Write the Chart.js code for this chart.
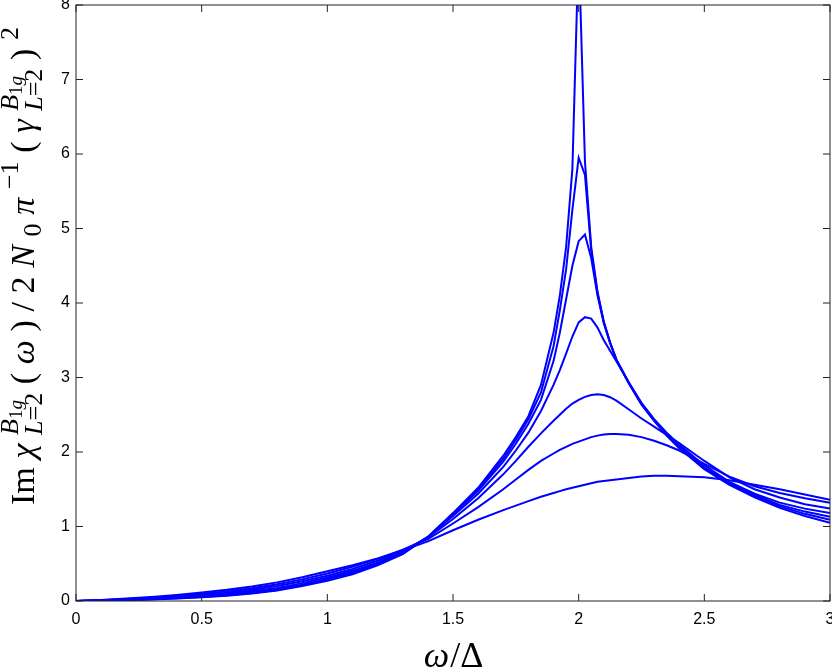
<!DOCTYPE html>
<html>
<head>
<meta charset="utf-8">
<script src="https://cdn.jsdelivr.net/npm/chart.js@4.4.1/dist/chart.umd.min.js"></script>
<style>
  html, body { margin: 0; padding: 0; background: #fff; }
  canvas { display: block; }
</style>
</head>
<body>
<canvas id="chart" width="832" height="671"></canvas>
<script>
// omega / Delta sample points shared by all curves
const xGrid = [0, 0.1, 0.2, 0.3, 0.4, 0.5, 0.6, 0.7, 0.8, 0.9, 1.0,
    1.1, 1.2, 1.3, 1.4, 1.5, 1.6, 1.7,
    1.75, 1.8, 1.85, 1.9,
    1.925, 1.95, 1.975, 2.0, 2.025, 2.05, 2.075, 2.1, 2.125, 2.15,
    2.2, 2.25, 2.3, 2.35, 2.4,
    2.5, 2.6, 2.7, 2.8, 2.9, 3.0];

// curves, from the sharpest peak to the broadest one
const curveA = [0, 0.004, 0.011, 0.021, 0.033, 0.05, 0.07, 0.10, 0.14, 0.20, 0.27,
    0.36, 0.48, 0.63, 0.86, 1.18, 1.52, 1.95,
    2.2, 2.48, 2.9, 3.6,
    4.1, 4.75, 5.8, 8.8, 5.9, 4.75, 4.15, 3.75, 3.47, 3.24,
    2.92, 2.64, 2.42, 2.22, 2.05,
    1.77, 1.56, 1.39, 1.25, 1.14, 1.05];
const curveB = [0, 0.005, 0.013, 0.024, 0.038, 0.055, 0.077, 0.107, 0.148, 0.21, 0.28,
    0.37, 0.49, 0.64, 0.86, 1.17, 1.5, 1.91,
    2.16, 2.44, 2.8, 3.42,
    3.9, 4.45, 5.25, 5.95, 5.72, 4.7, 4.13, 3.74, 3.47, 3.24,
    2.92, 2.64, 2.42, 2.23, 2.06,
    1.78, 1.57, 1.41, 1.27, 1.17, 1.09];
const curveC = [0, 0.006, 0.015, 0.027, 0.042, 0.06, 0.084, 0.116, 0.158, 0.22, 0.295,
    0.385, 0.5, 0.65, 0.86, 1.16, 1.48, 1.87,
    2.11, 2.38, 2.7, 3.22,
    3.6, 4.05, 4.5, 4.83, 4.92, 4.6, 4.1, 3.73, 3.46, 3.24,
    2.93, 2.65, 2.43, 2.24, 2.08,
    1.79, 1.58, 1.42, 1.29, 1.2, 1.13];
const curveD = [0, 0.007, 0.018, 0.032, 0.05, 0.07, 0.095, 0.13, 0.175, 0.24, 0.315,
    0.405, 0.515, 0.66, 0.855, 1.14, 1.44, 1.8,
    2.02, 2.26, 2.55, 2.9,
    3.1, 3.32, 3.55, 3.74, 3.81, 3.79, 3.67, 3.5, 3.36, 3.22,
    2.93, 2.66, 2.44, 2.26, 2.1,
    1.82, 1.6, 1.44, 1.32, 1.24, 1.18];
const curveE = [0, 0.009, 0.022, 0.039, 0.06, 0.083, 0.112, 0.15, 0.2, 0.265, 0.34,
    0.43, 0.54, 0.675, 0.85, 1.1, 1.38, 1.7,
    1.88, 2.07, 2.25, 2.42,
    2.5, 2.58, 2.65, 2.7, 2.74, 2.765, 2.775, 2.765, 2.735, 2.69,
    2.57, 2.45, 2.34, 2.23, 2.12,
    1.88, 1.66, 1.5, 1.39, 1.3, 1.24];
const curveF = [0, 0.011, 0.027, 0.047, 0.07, 0.097, 0.13, 0.172, 0.225, 0.29, 0.37,
    0.46, 0.565, 0.69, 0.83, 1.04, 1.26, 1.5,
    1.63, 1.76, 1.88, 1.98,
    2.03, 2.07, 2.11, 2.14, 2.17, 2.2, 2.22, 2.235, 2.24, 2.24,
    2.23, 2.2, 2.15, 2.09, 2.02,
    1.84, 1.67, 1.54, 1.45, 1.38, 1.32];
const curveG = [0, 0.013, 0.032, 0.055, 0.082, 0.113, 0.15, 0.195, 0.25, 0.32, 0.40,
    0.48, 0.57, 0.68, 0.8, 0.95, 1.09, 1.22,
    1.28, 1.34, 1.4, 1.45,
    1.475, 1.5, 1.52, 1.54, 1.56, 1.58, 1.6, 1.61, 1.62, 1.63,
    1.65, 1.67, 1.68, 1.68, 1.675,
    1.66, 1.62, 1.56, 1.5, 1.43, 1.36];

const curves = [curveA, curveB, curveC, curveD, curveE, curveF, curveG];

const xTicks = [0, 0.5, 1, 1.5, 2, 2.5, 3];
const yTicks = [0, 1, 2, 3, 4, 5, 6, 7, 8];

// y axis title pieces (i: italic, l: script level)
const supB1g = [{t: 'B', i: 1}, {t: '1', l: 2}, {t: 'g', i: 1, l: 2}];
const subL2 = [{t: 'L', i: 1}, {t: '=2'}];
const yTitle = [
    {t: 'Im'}, {t: 'χ', i: 1}, {sup: supB1g, sub: subL2},
    {t: '('}, {t: 'ω', i: 1}, {t: ')'}, {t: '/'}, {t: '2'}, {t: 'N', i: 1}, {sub: [{t: '0'}]},
    {t: 'π', i: 1}, {sup: [{t: '−1'}]},
    {t: '('}, {t: 'γ', i: 1}, {sup: supB1g, sub: subL2}, {t: ')'}, {sup: [{t: '2'}]}
];
const titleSizes = [34, 26, 19];
const titleLength = 478;
const serif = '"Liberation Serif", "DejaVu Serif", serif';

function pieceFont(p, lvl) {
    return `${p.i ? 'italic ' : ''}${titleSizes[p.l || lvl]}px ${serif}`;
}

function runWidth(ctx, run, lvl) {
    return run.reduce((w, p) => {
        ctx.font = pieceFont(p, lvl);
        return w + ctx.measureText(p.t).width;
    }, 0);
}

function drawRun(ctx, run, x, y, lvl) {
    run.forEach(p => {
        ctx.font = pieceFont(p, lvl);
        ctx.fillText(p.t, x, y + (p.l == 2 ? 4 : 0));
        x += ctx.measureText(p.t).width;
    });
    return x;
}

function itemWidth(ctx, it) {
    if (it.t) return runWidth(ctx, [it], 0);
    return Math.max(it.sup ? runWidth(ctx, it.sup, 1) : 0, it.sub ? runWidth(ctx, it.sub, 1) : 0);
}

function drawRich(ctx, parts, total) {
    let widths = parts.map(it => itemWidth(ctx, it));
    let sum = widths.reduce((a, b) => a + b, 0);
    let gap = Math.max(0, (total - sum) / (parts.length - 1));
    let x = -total / 2;
    parts.forEach((it, k) => {
        if (it.t) {
            drawRun(ctx, [it], x, 0, 0);
        } else {
            if (it.sup) drawRun(ctx, it.sup, x, -16, 1);
            if (it.sub) drawRun(ctx, it.sub, x, it.sup ? 8 : 7, 1);
        }
        x += widths[k] + gap;
    });
}

const framePlugin = {
    id: 'frame',
    afterDraw(chart) {
        const {ctx, chartArea: a, scales} = chart;
        ctx.save();
        ctx.strokeStyle = '#222';
        ctx.lineWidth = 1;
        ctx.strokeRect(a.left, a.top, a.right - a.left, a.bottom - a.top);
        ctx.beginPath();
        const tl = 7;
        scales.x.ticks.forEach(t => {
            let px = scales.x.getPixelForValue(t.value);
            ctx.moveTo(px, a.bottom); ctx.lineTo(px, a.bottom - tl);
            ctx.moveTo(px, a.top); ctx.lineTo(px, a.top + tl);
        });
        scales.y.ticks.forEach(t => {
            let py = scales.y.getPixelForValue(t.value);
            ctx.moveTo(a.left, py); ctx.lineTo(a.left + tl, py);
            ctx.moveTo(a.right, py); ctx.lineTo(a.right - tl, py);
        });
        ctx.stroke();

        // axis titles
        ctx.fillStyle = '#000';
        ctx.textBaseline = 'alphabetic';
        ctx.textAlign = 'left';
        ctx.font = `italic 36px ${serif}`;
        let w1 = ctx.measureText('ω').width;
        ctx.font = `36px ${serif}`;
        let w2 = ctx.measureText('/Δ').width;
        let x0 = (a.left + a.right) / 2 - (w1 + w2) / 2;
        ctx.font = `italic 36px ${serif}`;
        ctx.fillText('ω', x0, 667);
        ctx.font = `36px ${serif}`;
        ctx.fillText('/Δ', x0 + w1 + 1, 667);

        ctx.translate(34, 266);
        ctx.rotate(-Math.PI / 2);
        drawRich(ctx, yTitle, titleLength);
        ctx.restore();
    }
};

const datasets = curves.map(c => ({
    data: xGrid.map((x, i) => ({x: x, y: c[i]})),
    borderColor: '#0000ff',
    borderWidth: 2,
    pointRadius: 0,
    fill: false,
    tension: 0
}));

new Chart(document.getElementById('chart'), {
    type: 'line',
    data: {datasets: datasets},
    options: {
        responsive: false,
        animation: false,
        events: [],
        layout: {padding: {left: 0, right: 2, top: 5, bottom: 0}, autoPadding: false},
        plugins: {legend: {display: false}, tooltip: {enabled: false}},
        scales: {
            x: {
                type: 'linear',
                min: 0,
                max: 3,
                afterBuildTicks: s => { s.ticks = xTicks.map(v => ({value: v})); },
                afterFit: s => { s.height = 70; s.paddingLeft = 0; s.paddingRight = 0; },
                ticks: {
                    padding: 9,
                    color: '#000',
                    font: {family: '"Liberation Sans", Arial, sans-serif', size: 16},
                    callback: v => String(v),
                    maxRotation: 0
                },
                grid: {display: false, drawTicks: false},
                border: {display: false}
            },
            y: {
                min: 0,
                max: 8,
                afterBuildTicks: s => { s.ticks = yTicks.map(v => ({value: v})); },
                afterFit: s => { s.width = 76; s.paddingTop = 0; s.paddingBottom = 0; },
                ticks: {
                    padding: 6,
                    color: '#000',
                    font: {family: '"Liberation Sans", Arial, sans-serif', size: 16}
                },
                grid: {display: false, drawTicks: false},
                border: {display: false}
            }
        }
    },
    plugins: [framePlugin]
});
</script>
</body>
</html>
